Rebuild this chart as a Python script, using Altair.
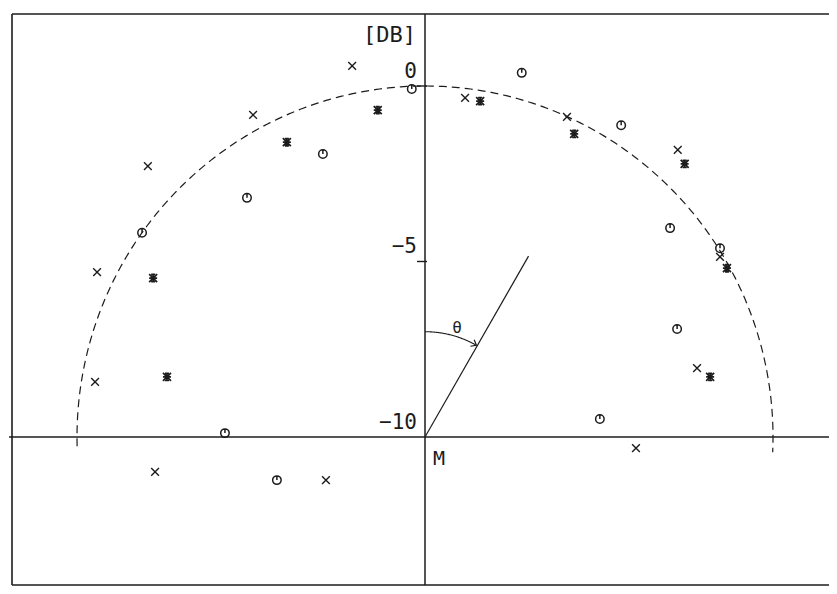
import altair as alt
import pandas as pd

# ---- data (angle: degrees clockwise from the vertical axis, level: dB) ----
x_angle = [-113.3, -97.3, -80.6, -63.5, -45.9, -28.3, -11.2, 6.8, 24.1, 41.6, 58.8, 75.9, 93.0]
x_level = [-6.90, -2.18, -0.39, 0.53, 1.09, 0.42, 0.78, -0.27, -0.01, 0.94, -0.09, -1.94, -3.93]

o_angle = [-106.1, -88.9, -54.4, -36.9, -20.0, -2.2, 15.0, 32.4, 49.8, 57.6, 67.0, 84.2]
o_level = [-5.57, -4.25, 0.00, -1.48, -1.42, -0.08, 0.74, 0.52, -0.78, 0.04, -2.13, -4.95]

s_angle = [-77.0, -59.9, -25.3, -8.3, 9.4, 26.4, 43.8, 61.0, 78.2]
s_level = [-2.39, -0.97, -0.71, -0.59, -0.30, -0.36, 0.78, -0.08, -1.63]

tick_db = [0, -5, -10]
tick_labels = ["0", "\u22125", "\u221210"]
unit_label = "[DB]"
origin_label = "M"
theta_label = "\u03b8"

ref_level = 0          # dashed reference circle (0 dB)
theta_demo = 30        # angle of the explanatory radius
theta_demo_len = 5.95  # its length (dB above -10)
theta_arc_r = 3.0

# ---- layout ----
W, H = 821, 578
INK = "#1c1c1c"
FONT = "DejaVu Sans Mono"
xs = alt.Scale(domain=[-11.983, 11.609], nice=False, zero=False)
ys = alt.Scale(domain=[-4.245, 12.222], nice=False, zero=False)


def X(f):
    return alt.X(f, type="quantitative", scale=xs, axis=None)


def Y(f):
    return alt.Y(f, type="quantitative", scale=ys, axis=None)


def polar(df):
    return alt.Chart(df).transform_calculate(
        r="datum.level + 10"
    ).transform_calculate(
        px="datum.r * sin(datum.angle * PI / 180)",
        py="datum.r * cos(datum.angle * PI / 180)",
    )


X_SHAPE = "M-1 -1L1 1M-1 1L1 -1"
O_SHAPE = "M0 -1A1 1 0 1 1 0 1A1 1 0 1 1 0 -1M0 -1L0 0"
S_SHAPE = "M-1 -1L1 1M-1 1L1 -1M0 -1L0 1M-1 0L1 0M-0.5 -0.9L0.5 -0.9M-0.5 0.9L0.5 0.9"
ARROW = "M-1 -0.8L0 0L-1 0.8"

layers = []

# frame (left, top, bottom)
one = pd.DataFrame({"k": [0]})
layers.append(alt.Chart(one).mark_rule(color=INK, strokeWidth=1.6).encode(
    x=alt.value(4), y=alt.value(6), y2=alt.value(577)))
layers.append(alt.Chart(one).mark_rule(color=INK, strokeWidth=1.6).encode(
    y=alt.value(6), x=alt.value(4), x2=alt.value(W)))
layers.append(alt.Chart(one).mark_rule(color=INK, strokeWidth=1.4).encode(
    y=alt.value(577), x=alt.value(4), x2=alt.value(W)))

# axes through M
zero = pd.DataFrame({"v": [0]})
layers.append(alt.Chart(zero).mark_rule(color=INK, strokeWidth=1.5).encode(
    y=Y("v"), x=alt.value(1), x2=alt.value(W)))
layers.append(alt.Chart(zero).mark_rule(color=INK, strokeWidth=1.5).encode(
    x=X("v"), y=alt.value(6), y2=alt.value(577)))

# ticks and labels on the vertical axis
ticks = pd.DataFrame({"db": tick_db, "label": tick_labels})
tick_base = alt.Chart(ticks).transform_calculate(r="datum.db + 10")
layers.append(tick_base.transform_filter("datum.db > -10").mark_rule(
    color=INK, strokeWidth=1.4).encode(y=Y("r"), x=alt.value(409), x2=alt.value(419)))
layers.append(tick_base.mark_text(
    font=FONT, fontSize=21, color=INK, align="right", baseline="alphabetic", dy=-8
).encode(y=Y("r"), x=alt.value(409), text="label:N"))

layers.append(alt.Chart(pd.DataFrame({"t": [unit_label]})).mark_text(
    font=FONT, fontSize=22, color=INK, align="right", baseline="alphabetic"
).encode(x=alt.value(408), y=alt.value(34), text="t:N"))
layers.append(alt.Chart(pd.DataFrame({"t": [origin_label]})).mark_text(
    font=FONT, fontSize=20, color=INK, align="left", baseline="alphabetic"
).encode(x=alt.value(425), y=alt.value(457), text="t:N"))

# dashed reference circle
circle = alt.Chart(alt.sequence(-91.5, 93, 0.5, as_="a")).transform_calculate(
    px=f"({ref_level} + 10) * sin(datum.a * PI / 180)",
    py=f"({ref_level} + 10) * cos(datum.a * PI / 180)",
).mark_line(color=INK, strokeWidth=1.2, strokeDash=[8, 5]).encode(
    x=X("px"), y=Y("py"), order="a:Q")
layers.append(circle)

# explanatory radius and theta arc
rad = alt.Chart(pd.DataFrame({"angle": [theta_demo]})).transform_calculate(
    ex=f"{theta_demo_len} * sin(datum.angle * PI / 180)",
    ey=f"{theta_demo_len} * cos(datum.angle * PI / 180)",
    o="0",
).mark_rule(color=INK, strokeWidth=1.2).encode(
    x=X("o"), y=Y("o"), x2="ex:Q", y2="ey:Q")
layers.append(rad)

arc = alt.Chart(alt.sequence(0, theta_demo - 0.5, 0.5, as_="a")).transform_calculate(
    px=f"{theta_arc_r} * sin(datum.a * PI / 180)",
    py=f"{theta_arc_r} * cos(datum.a * PI / 180)",
).mark_line(color=INK, strokeWidth=1.1).encode(x=X("px"), y=Y("py"), order="a:Q")
layers.append(arc)

arrow = alt.Chart(pd.DataFrame({"angle": [theta_demo - 0.5]})).transform_calculate(
    px=f"{theta_arc_r} * sin(datum.angle * PI / 180)",
    py=f"{theta_arc_r} * cos(datum.angle * PI / 180)",
).mark_point(shape=ARROW, filled=False, size=90, angle=theta_demo, color=INK,
             strokeWidth=1.2, opacity=1).encode(x=X("px"), y=Y("py"))
layers.append(arrow)

layers.append(alt.Chart(pd.DataFrame({"t": [theta_label]})).mark_text(
    font=FONT, fontSize=16, color=INK, align="center", baseline="alphabetic"
).encode(x=alt.value(449), y=alt.value(325), text="t:N"))

# measured points
for ang, lev, shape, size, sw in [
    (x_angle, x_level, X_SHAPE, 60, 1.4),
    (o_angle, o_level, O_SHAPE, 72, 1.5),
    (s_angle, s_level, S_SHAPE, 64, 1.7),
]:
    df = pd.DataFrame({"angle": ang, "level": lev})
    layers.append(polar(df).mark_point(
        shape=shape, filled=False, size=size, color=INK, strokeWidth=sw, opacity=1
    ).encode(x=X("px"), y=Y("py")))

chart = alt.layer(*layers).properties(
    width=W, height=H, padding=0,
    autosize=alt.AutoSizeParams(type="none"),
    background="white",
).configure_view(stroke=None)

chart.save("out.html", embed_options={"renderer": "svg", "actions": False})
